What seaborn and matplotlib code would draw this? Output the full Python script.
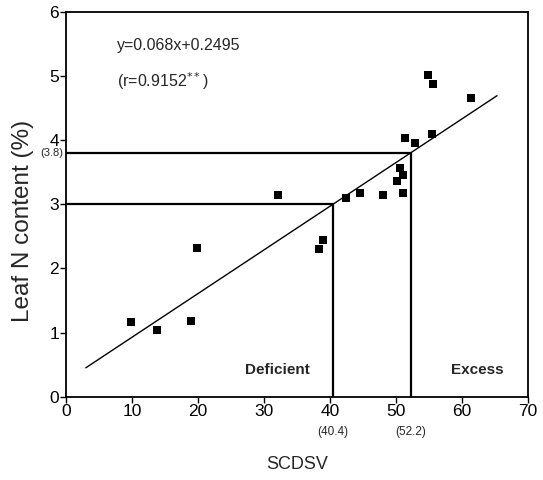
import matplotlib
matplotlib.use("Agg")
import matplotlib.pyplot as plt
import seaborn as sns
import numpy as np
import pandas as pd

# data
scdsv = [9.8, 13.8, 18.9, 19.8, 32.1, 38.3, 38.9, 42.4, 44.6, 48.1,
         51.0, 50.2, 51.0, 50.6, 51.4, 52.9, 55.4, 54.8, 55.6, 61.3]
leaf_n = [1.17, 1.05, 1.18, 2.32, 3.15, 2.31, 2.45, 3.09, 3.18, 3.15,
          3.18, 3.36, 3.46, 3.56, 4.03, 3.96, 4.10, 5.01, 4.87, 4.65]
slope, intercept = 0.068, 0.2495
fit_range = [3.0, 65.3]
critical_x = [40.4, 52.2]
critical_y = [3.0, 3.8]
x_ticks = [0, 10, 20, 30, 40, 50, 60, 70]
y_ticks = [0, 1, 2, 3, 4, 5, 6]

df = pd.DataFrame({"SCDSV": scdsv, "LeafN": leaf_n})

sns.set_theme(style="ticks")
plt.rcParams["font.family"] = ["Liberation Sans", "DejaVu Sans"]

fig = plt.figure(figsize=(5.43, 4.8), dpi=100)
ax = fig.add_axes([0.1215, 0.173, 0.851, 0.803])

sns.scatterplot(data=df, x="SCDSV", y="LeafN", marker="s", s=38,
                color="black", edgecolor="black", linewidth=0, ax=ax, zorder=3)

fx = np.array(fit_range)
ax.plot(fx, slope * fx + intercept, color="black", lw=1.0)

# threshold lines
for cx, cy in zip(critical_x, critical_y):
    ax.plot([0, cx], [cy, cy], color="black", lw=1.6)
    ax.plot([cx, cx], [0, cy], color="black", lw=1.6)

ax.set_xlim(0, 70)
ax.set_ylim(0, 6)
ax.set_xticks(x_ticks)
ax.set_yticks(y_ticks)
ax.tick_params(axis="both", direction="out", length=4, width=1,
               labelsize=12.5, colors="black", pad=1)
for sp in ax.spines.values():
    sp.set_visible(True)
    sp.set_color("black")
    sp.set_linewidth(1.3)

ax.set_xlabel("SCDSV", fontsize=13, labelpad=27)
ax.set_ylabel("Leaf N content (%)", fontsize=17.5, va="center")
ax.yaxis.set_label_coords(-0.093, 0.457)

ax.text(7.7, 5.47, "y=0.068x+0.2495", fontsize=11.5, ha="left", va="center")
ax.text(7.7, 4.91, "(r=0.9152$^{**}$)", fontsize=11.5, ha="left", va="center")

ax.text(32.0, 0.42, "Deficient", fontsize=11, fontweight="bold", ha="center", va="center")
ax.text(62.3, 0.42, "Excess", fontsize=11, fontweight="bold", ha="center", va="center")

ax.text(-0.4, critical_y[1], "(3.8)", fontsize=8, ha="right", va="center")
for cx in critical_x:
    ax.text(cx, -0.55, f"({cx})", fontsize=8.5, ha="center", va="center")

fig.savefig("out.png", dpi=100)
